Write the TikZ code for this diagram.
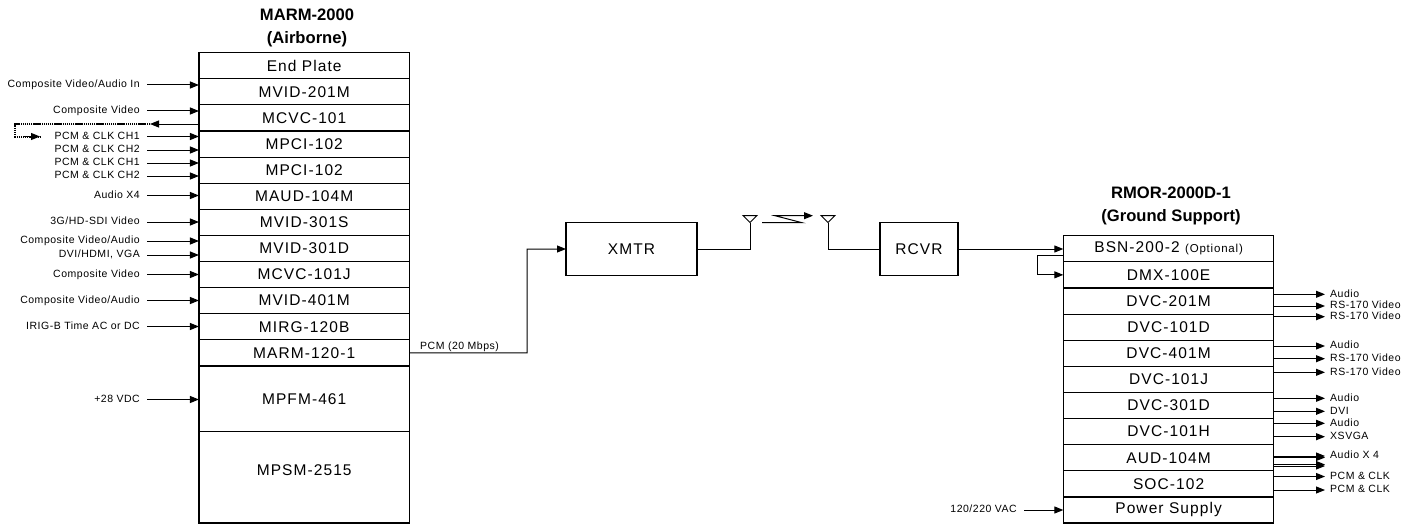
\documentclass[tikz,border=0pt]{standalone}
\usepackage{fontspec}
\setmainfont{Liberation Sans}
\newfontfamily\boxfont[LetterSpace=7]{Liberation Sans}
\newfontfamily\lblfont[LetterSpace=5]{Liberation Sans}
\usetikzlibrary{arrows.meta}
\tikzset{
  rowbox/.style={draw, line width=1.2pt, inner sep=0pt, outer sep=0pt, minimum width=210.5pt, font=\boxfont\fontsize{15.5}{17}\selectfont},
  boxtext/.style={inner sep=0pt, font=\boxfont\fontsize{15.5}{17}\selectfont},
  blk/.style={draw, line width=1.2pt, inner sep=0pt, outer sep=0pt, font=\boxfont\fontsize{15.5}{17}\selectfont},
  lbl/.style={inner sep=0pt, text height=7.5pt, text depth=1.9pt, font=\lblfont\fontsize{10.5}{12}\selectfont},
  lblL/.style={lbl, anchor=east},
  lblR/.style={lbl, anchor=west},
  ttl/.style={inner sep=0pt, align=center, font=\bfseries\fontsize{16.6}{23}\selectfont},
  arr/.style={-{Triangle[length=9pt,width=7pt]}, line width=1pt},
  wire/.style={line width=1pt},
  dotline/.style={line width=2pt, dash pattern=on 1.4pt off 0.7pt},
}
\newcommand{\lrow}[4]{\node[rowbox, minimum height={#3-#2}] (#1) at (304.2,{(#2+#3)/2}) {#4};}
\newcommand{\rrow}[4]{\node[rowbox, minimum height={#3-#2}] (#1) at (1168.6,{(#2+#3)/2}) {#4};}
\begin{document}
\begin{tikzpicture}[x=1pt,y=-1pt]
\useasboundingbox (0,0) rectangle (1420,524);

% titles
\node[ttl] (tL) at (307,27.5) {MARM-2000\\(Airborne)};
\node[ttl] (tR) at (1171,205.5) {RMOR-2000D-1\\(Ground Support)};

% left stack
\lrow{m1}{52.7}{78.8}{End Plate}
\lrow{m2}{78.8}{104.9}{MVID-201M}
\lrow{m3}{104.9}{131}{MCVC-101}
\lrow{m4}{131}{157.1}{MPCI-102}
\lrow{m5}{157.1}{183.2}{MPCI-102}
\lrow{m6}{183.2}{209.3}{MAUD-104M}
\lrow{m7}{209.3}{235.4}{MVID-301S}
\lrow{m8}{235.4}{261.5}{MVID-301D}
\lrow{m9}{261.5}{287.6}{MCVC-101J}
\lrow{m10}{287.6}{313.7}{MVID-401M}
\lrow{m11}{313.7}{339.8}{MIRG-120B}
\lrow{m12}{339.8}{365.9}{MARM-120-1}
\lrow{m13}{365.9}{431.7}{MPFM-461}
\lrow{m14}{431.7}{523}{}
\node[boxtext] (m14t) at (304.2,470) {MPSM-2515};

% left inputs
\node[lblL] (a1) at (140,85) {Composite Video/Audio In};
\node[lblL] (a2) at (140,111) {Composite Video};
\node[lblL] (a3) at (140,136.5) {PCM \& CLK CH1};
\node[lblL] (a4) at (140,150) {PCM \& CLK CH2};
\node[lblL] (a5) at (140,163) {PCM \& CLK CH1};
\node[lblL] (a6) at (140,176) {PCM \& CLK CH2};
\node[lblL] (a7) at (140,195.5) {Audio X4};
\node[lblL] (a8) at (140,222) {3G/HD-SDI Video};
\node[lblL] (a9) at (140,241) {Composite Video/Audio};
\node[lblL] (a10) at (140,255) {DVI/HDMI, VGA};
\node[lblL] (a11) at (140,274.5) {Composite Video};
\node[lblL] (a12) at (140,300.5) {Composite Video/Audio};
\node[lblL] (a13) at (140,326.5) {IRIG-B Time AC or DC};
\node[lblL] (a14) at (140,399.5) {+28 VDC};

\draw[arr] ([xshift=7pt]a1.east) -- (a1.east -| m2.west);
\draw[arr] ([xshift=7pt]a2.east) -- (a2.east -| m3.west);
\draw[arr] ([xshift=7pt]a3.east) -- (a3.east -| m4.west);
\draw[arr] ([xshift=7pt]a4.east) -- (a4.east -| m4.west);
\draw[arr] ([xshift=7pt]a5.east) -- (a5.east -| m5.west);
\draw[arr] ([xshift=7pt]a6.east) -- (a6.east -| m5.west);
\draw[arr] ([xshift=7pt]a7.east) -- (a7.east -| m6.west);
\draw[arr] ([xshift=7pt]a8.east) -- (a8.east -| m7.west);
\draw[arr] ([xshift=7pt]a9.east) -- (a9.east -| m8.west);
\draw[arr] ([xshift=7pt]a10.east) -- (a10.east -| m8.west);
\draw[arr] ([xshift=7pt]a11.east) -- (a11.east -| m9.west);
\draw[arr] ([xshift=7pt]a12.east) -- (a12.east -| m10.west);
\draw[arr] ([xshift=7pt]a13.east) -- (a13.east -| m11.west);
\draw[arr] ([xshift=7pt]a14.east) -- (a14.east -| m13.west);

% loop-back from MCVC-101
\coordinate (ret) at (150,124);
\coordinate (retc) at (15,124);
\coordinate (retend) at (40,136.5);
\draw[arr] (m3.west |- ret) -- (ret);
\draw[dotline] (ret) -- (retc) |- (retend);
\draw[arr] (24,136.5) -- (retend);

% transmitter chain
\node[blk, minimum width=131pt, minimum height=53pt] (xmtr) at (631.5,249) {XMTR};
\node[blk, minimum width=78pt, minimum height=53pt] (rcvr) at (919,249) {RCVR};
\coordinate (bend) at (527,352.85);
\draw[arr] (m12.east) -- (bend) |- (xmtr.west);
\node[lbl, anchor=west] (pcm) at (420,346.5) {PCM (20 Mbps)};

\coordinate (ant1) at (750,222.5);
\coordinate (ant2) at (828,222.5);
\draw[wire] (xmtr.east) -| (ant1);
\draw[wire] (rcvr.west) -| (ant2);
\draw[line width=1pt] (743,215.5) -- (757,215.5) -- (ant1) -- cycle;
\draw[line width=1pt] (821,215.5) -- (835,215.5) -- (ant2) -- cycle;
\draw[arr] (762,222.7) -- (802,222.7) -- (775,215.7) -- (813,215.7);

% right stack
\rrow{r1}{235.7}{261.8}{BSN-200-2 {\fontsize{11.5}{13}\selectfont(Optional)}}
\rrow{r2}{261.8}{287.9}{DMX-100E}
\rrow{r3}{287.9}{314.1}{DVC-201M}
\rrow{r4}{314.1}{340.2}{DVC-101D}
\rrow{r5}{340.2}{366.3}{DVC-401M}
\rrow{r6}{366.3}{392.4}{DVC-101J}
\rrow{r7}{392.4}{418.5}{DVC-301D}
\rrow{r8}{418.5}{444.7}{DVC-101H}
\rrow{r9}{444.7}{470.8}{AUD-104M}
\rrow{r10}{470.8}{496.9}{SOC-102}
\rrow{r11}{496.9}{523}{Power Supply}

\draw[arr] (rcvr.east) -- (rcvr.east -| r1.west);
\coordinate (lp) at (1063.3,255);
\draw[arr] (lp) -- ++(-26,0) |- (r2.west);

\node[lblL] (pw) at (1017,510) {120/220 VAC};
\draw[arr] ([xshift=7pt]pw.east) -- (pw.east -| r11.west);

% right outputs
\node[lblR] (o1) at (1330,294.3) {Audio};
\node[lblR] (o2) at (1330,306) {RS-170 Video};
\node[lblR] (o3) at (1330,316.7) {RS-170 Video};
\node[lblR] (o4) at (1330,346) {Audio};
\node[lblR] (o5) at (1330,358.7) {RS-170 Video};
\node[lblR] (o6) at (1330,372.3) {RS-170 Video};
\node[lblR] (o7) at (1330,398.3) {Audio};
\node[lblR] (o8) at (1330,411.3) {DVI};
\node[lblR] (o9) at (1330,423.3) {Audio};
\node[lblR] (o10) at (1330,436.7) {XSVGA};
\node[lblR] (o11) at (1330,456) {Audio X 4};
\node[lblR] (o12) at (1330,476.5) {PCM \& CLK};
\node[lblR] (o13) at (1330,490) {PCM \& CLK};

\draw[arr] (r3.east |- o1.west) -- ([xshift=-5pt]o1.west);
\draw[arr] (r3.east |- o2.west) -- ([xshift=-5pt]o2.west);
\draw[arr] (r4.east |- o3.west) -- ([xshift=-5pt]o3.west);
\draw[arr] (r5.east |- o4.west) -- ([xshift=-5pt]o4.west);
\draw[arr] (r5.east |- o5.west) -- ([xshift=-5pt]o5.west);
\draw[arr] (r6.east |- o6.west) -- ([xshift=-5pt]o6.west);
\draw[arr] (r7.east |- o7.west) -- ([xshift=-5pt]o7.west);
\draw[arr] (r7.east |- o8.west) -- ([xshift=-5pt]o8.west);
\draw[arr] (r8.east |- o9.west) -- ([xshift=-5pt]o9.west);
\draw[arr] (r8.east |- o10.west) -- ([xshift=-5pt]o10.west);
\draw[arr] (r9.east |- o11.west) -- ([xshift=-5pt]o11.west);
\coordinate (ax2) at (1325,457.5);
\coordinate (ax3) at (1325,464.5);
\coordinate (ax4) at (1325,466);
\draw[arr] (r9.east |- ax2) -- (ax2);
\draw[arr] (r9.east |- ax3) -- (ax3);
\draw[arr] (r9.east |- ax4) -- (ax4);
\draw[arr] (r10.east |- o12.west) -- ([xshift=-5pt]o12.west);
\draw[arr] (r10.east |- o13.west) -- ([xshift=-5pt]o13.west);
\end{tikzpicture}
\end{document}
